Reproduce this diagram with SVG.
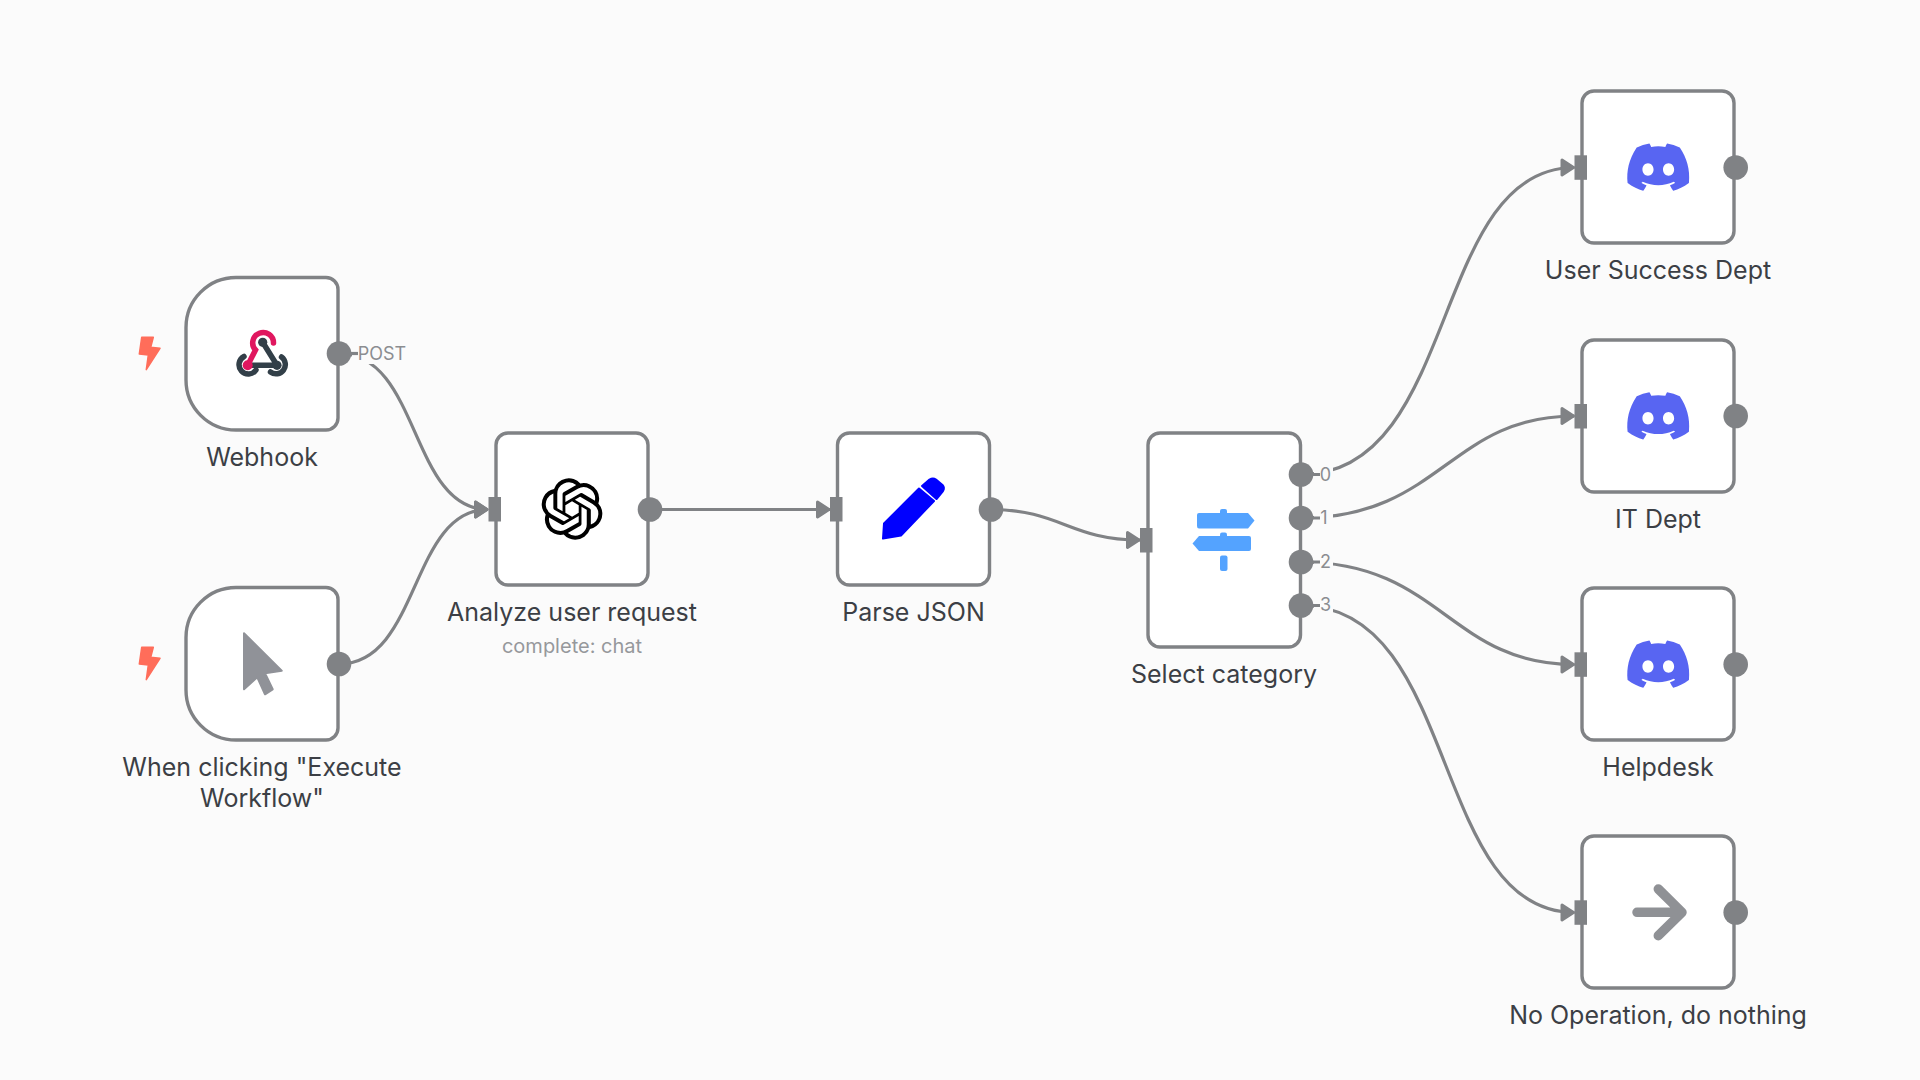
<svg xmlns="http://www.w3.org/2000/svg" xmlns:xlink="http://www.w3.org/1999/xlink" width="1920" height="1080" viewBox="0 0 1920 1080">
<style>
.box{fill:#fff;stroke:#808285;stroke-width:3.4}
.port{fill:#808285}
.in{fill:#808285}
.edge{fill:none;stroke:#808285;stroke-width:3.2;marker-end:url(#arrow)}
.plain{fill:none;stroke:#808285;stroke-width:3.2}
.mask{fill:#fbfbfb}
.label{font-family:Inter,"Liberation Sans",sans-serif;font-size:25px;fill:#3c3f45;text-anchor:middle}
.sub{font-family:Inter,"Liberation Sans",sans-serif;font-size:20px;fill:#96989c;text-anchor:middle}
.out{font-family:Inter,"Liberation Sans",sans-serif;font-size:18px;fill:#8b8d91;text-anchor:middle}
.bolt{fill:#ff6d5a;stroke:#ff6d5a;stroke-width:1.5;stroke-linejoin:round}
</style>
<defs>
<marker id="arrow" markerUnits="userSpaceOnUse" markerWidth="20" markerHeight="24" refX="15" refY="12" orient="auto">
<path d="M2.5 4.5 L14 12 L2.5 19.5 Z" fill="#808285" stroke="#808285" stroke-width="3" stroke-linejoin="round"/>
</marker>
<path id="discord" fill="#5865f2" d="M20.317 4.3698a19.7913 19.7913 0 00-4.8851-1.5152.0741.0741 0 00-.0785.0371c-.211.3753-.4447.8648-.6083 1.2495-1.8447-.2762-3.68-.2762-5.4868 0-.1636-.3933-.4058-.8742-.6177-1.2495a.077.077 0 00-.0785-.037 19.7363 19.7363 0 00-4.8852 1.515.0699.0699 0 00-.0321.0277C.5334 9.0458-.319 13.5799.0992 18.0578a.0824.0824 0 00.0312.0561c2.0528 1.5076 4.0413 2.4228 5.9929 3.0294a.0777.0777 0 00.0842-.0276c.4616-.6304.8731-1.2952 1.226-1.9942a.076.076 0 00-.0416-.1057c-.6528-.2476-1.2743-.5495-1.8722-.8923a.077.077 0 01-.0076-.1277c.1258-.0943.2517-.1923.3718-.2914a.0743.0743 0 01.0776-.0105c3.9278 1.7933 8.18 1.7933 12.0614 0a.0739.0739 0 01.0785.0095c.1202.099.246.1981.3728.2924a.077.077 0 01-.0066.1276 12.2986 12.2986 0 01-1.8732.8914.0766.0766 0 00-.0407.1067c.3604.698.7719 1.3628 1.225 1.9932a.076.076 0 00.0842.0286c1.961-.6067 3.9495-1.5219 6.0023-3.0294a.077.077 0 00.0313-.0552c.5004-5.177-.8382-9.6739-3.5485-13.6604a.061.061 0 00-.0312-.0286zM8.02 15.3312c-1.1825 0-2.1569-1.0857-2.1569-2.419 0-1.3332.9555-2.4189 2.157-2.4189 1.2108 0 2.1757 1.0952 2.1568 2.419 0 1.3332-.9555 2.4189-2.1569 2.4189zm7.9748 0c-1.1825 0-2.1569-1.0857-2.1569-2.419 0-1.3332.9554-2.4189 2.1569-2.4189 1.2108 0 2.1757 1.0952 2.1568 2.419 0 1.3332-.946 2.4189-2.1568 2.4189Z"/>
<path id="bolt" class="bolt" d="M141.7 337.3 L153.3 337.3 L150.7 347.3 L160 348.3 L146.3 369.6 L148.3 355 L139.3 354 Z"/>
</defs>
<rect width="1920" height="1080" fill="#fbfbfb"/>

<g id="connectors">
<path class="edge" d="M339 353.5 C 420 353.5, 410 509.5, 488 509.5"/>
<path class="edge" d="M339 664 C 420 664, 410 509.5, 488 509.5"/>
<path class="edge" d="M650 509.5 L 830 509.5"/>
<path class="edge" d="M991 509.5 C 1060 509.5, 1070 540, 1140 540"/>
<path class="edge" d="M1301 474.5 C 1460 474.5, 1430 167.5, 1574.5 167.5"/>
<path class="edge" d="M1301 518 C 1440 518, 1450 416, 1574.5 416"/>
<path class="edge" d="M1301 562 C 1440 562, 1450 664.5, 1574.5 664.5"/>
<path class="edge" d="M1301 605.5 C 1460 605.5, 1430 912.5, 1574.5 912.5"/>
</g>

<g id="webhook">
<path class="box" d="M236 277.5 H326 A12 12 0 0 1 338 289.5 V418 A12 12 0 0 1 326 430 H236 A50 50 0 0 1 186 380 V327.5 A50 50 0 0 1 236 277.5 Z"/>
<use xlink:href="#bolt" href="#bolt"/>
<g fill="none" stroke-width="5.5" stroke-linecap="round">
<path d="M262.7 342.3 L277 365.3 M252 365.3 H277" stroke="#323f48"/>
<path d="M244 356.5 A9.3 9.3 0 1 0 256 370 M281.5 357 A9.3 9.3 0 1 1 270.5 372" stroke="#323f48"/>
<path d="M247.7 365.3 L255.5 350 A10.4 10.4 0 1 1 273.5 343" stroke="#e0175f"/>
</g>
<circle cx="262.7" cy="342.3" r="4.6" fill="#323f48"/>
<circle cx="277" cy="365.3" r="4.6" fill="#323f48"/>
<circle cx="247.7" cy="365.3" r="5" fill="#e0175f"/>
<rect class="mask" x="352" y="340" width="57" height="24"/>
<text class="out" x="382" y="360">POST</text>
<path class="plain" d="M339 353.5 H358"/>
<circle class="port" cx="339" cy="353.5" r="12.3"/>
<text class="label" x="262" y="466">Webhook</text>
</g>

<g id="manual">
<path class="box" d="M236 587.5 H326 A12 12 0 0 1 338 599.5 V728 A12 12 0 0 1 326 740 H236 A50 50 0 0 1 186 690 V637.5 A50 50 0 0 1 236 587.5 Z"/>
<use xlink:href="#bolt" href="#bolt" y="310"/>
<path d="M244 633.3 L281.7 670.7 L265 673.3 L272.7 689.3 L265 694.3 L257.3 677.3 L244 689.3 Z" fill="#909298" stroke="#909298" stroke-width="2" stroke-linejoin="round"/>
<circle class="port" cx="339" cy="664" r="12.3"/>
<text class="label" x="262" y="776">When clicking "Execute</text>
<text class="label" x="262" y="807">Workflow"</text>
</g>

<g id="openai">
<rect class="box" x="496" y="433" width="152" height="152" rx="12"/>
<rect class="in" x="488.5" y="497" width="12.5" height="24.5"/>
<path transform="translate(541.3 478.3) scale(2.56)" fill="#000" d="M22.2819 9.8211a5.9847 5.9847 0 0 0-.5157-4.9108 6.0462 6.0462 0 0 0-6.5098-2.9A6.0651 6.0651 0 0 0 4.9807 4.1818a5.9847 5.9847 0 0 0-3.9977 2.9 6.0462 6.0462 0 0 0 .7427 7.0966 5.98 5.98 0 0 0 .511 4.9107 6.051 6.051 0 0 0 6.5146 2.9001A5.9847 5.9847 0 0 0 13.2599 24a6.0557 6.0557 0 0 0 5.7718-4.2058 5.9894 5.9894 0 0 0 3.9977-2.9001 6.0557 6.0557 0 0 0-.7475-7.0729zm-9.022 12.6081a4.4755 4.4755 0 0 1-2.8764-1.0408l.1419-.0804 4.7783-2.7582a.7948.7948 0 0 0 .3927-.6813v-6.7369l2.02 1.1686a.071.071 0 0 1 .038.052v5.5826a4.504 4.504 0 0 1-4.4945 4.4944zm-9.6607-4.1254a4.4708 4.4708 0 0 1-.5346-3.0137l.142.0852 4.783 2.7582a.7712.7712 0 0 0 .7806 0l5.8428-3.3685v2.3324a.0804.0804 0 0 1-.0332.0615L9.74 19.9502a4.4992 4.4992 0 0 1-6.1408-1.6464zM2.3408 7.8956a4.485 4.485 0 0 1 2.3655-1.9728V11.6a.7664.7664 0 0 0 .3879.6765l5.8144 3.3543-2.0201 1.1685a.0757.0757 0 0 1-.071 0l-4.8303-2.7865A4.504 4.504 0 0 1 2.3408 7.872zm16.5963 3.8558L13.1038 8.364 15.1192 7.2a.0757.0757 0 0 1 .071 0l4.8303 2.7913a4.4944 4.4944 0 0 1-.6765 8.1042v-5.6772a.79.79 0 0 0-.407-.667zm2.0107-3.0231l-.142-.0852-4.7735-2.7818a.7759.7759 0 0 0-.7854 0L9.409 9.2297V6.8974a.0662.0662 0 0 1 .0284-.0615l4.8303-2.7866a4.4992 4.4992 0 0 1 6.6802 4.66zM8.3065 12.863l-2.02-1.1638a.0804.0804 0 0 1-.038-.0567V6.0742a4.4992 4.4992 0 0 1 7.3757-3.4537l-.142.0805L8.704 5.459a.7948.7948 0 0 0-.3927.6813zm1.0976-2.3654l2.602-1.4998 2.6069 1.4998v2.9994l-2.5974 1.4997-2.6067-1.4997Z"/>
<circle class="port" cx="650" cy="509.5" r="12.3"/>
<text class="label" x="572" y="621">Analyze user request</text>
<text class="sub" x="572" y="653">complete: chat</text>
</g>

<g id="parse-json">
<rect class="box" x="837.5" y="433" width="152" height="152" rx="12"/>
<rect class="in" x="830" y="497" width="12.5" height="24.5"/>
<path d="M919 488.5 L934 501 L901 535.5 L883 538.5 L884 523.5 Z" fill="#0000ff" stroke="#0000ff" stroke-width="2" stroke-linejoin="round"/>
<path d="M922 486 L929.5 479.5 Q933 477.5 936 479.5 L942.5 485 Q945 488 943 491 L936.5 499 Z" fill="#0000ff" stroke="#0000ff" stroke-width="2" stroke-linejoin="round"/>
<circle class="port" cx="991" cy="509.5" r="12.3"/>
<text class="label" x="913.5" y="621">Parse JSON</text>
</g>

<g id="select-category">
<rect class="box" x="1148" y="433" width="152.5" height="214" rx="12"/>
<rect class="in" x="1140" y="528" width="12.5" height="24.5"/>
<g fill="#54a3ff">
<path d="M1199 513 H1248 L1254.5 520.5 L1248 528.5 H1199 Q1197 528.5 1197 526 V515 Q1197 513 1199 513 Z"/>
<path d="M1220 513 V511 Q1220 509 1222 509 H1225 Q1227 509 1227 511 V513 Z"/>
<path d="M1199 536 H1249 Q1251 536 1251 538 V549 Q1251 551 1249 551 H1199 L1192.5 543.5 Z"/>
<path d="M1220 536 V534.5 Q1220 532.5 1222 532.5 H1225 Q1227 532.5 1227 534.5 V536 Z"/>
<rect x="1220" y="555.5" width="7.5" height="15.5" rx="2"/>
</g>
<rect class="mask" x="1314" y="463" width="19" height="22"/><text class="out" x="1325.5" y="481">0</text>
<rect class="mask" x="1314" y="507" width="19" height="22"/><text class="out" x="1324" y="524">1</text>
<rect class="mask" x="1314" y="551" width="19" height="22"/><text class="out" x="1325.5" y="568">2</text>
<rect class="mask" x="1314" y="594" width="19" height="22"/><text class="out" x="1325.5" y="611">3</text>
<path class="plain" d="M1301 474.5 H1320 M1301 518 H1320 M1301 562 H1320 M1301 605.5 H1320"/>
<circle class="port" cx="1301" cy="474.5" r="12.3"/>
<circle class="port" cx="1301" cy="518" r="12.3"/>
<circle class="port" cx="1301" cy="562" r="12.3"/>
<circle class="port" cx="1301" cy="605.5" r="12.3"/>
<text class="label" x="1224" y="683">Select category</text>
</g>

<g id="user-success">
<rect class="box" x="1582" y="91" width="152" height="152" rx="12"/>
<rect class="in" x="1574.5" y="155.3" width="12.5" height="24.5"/>
<use xlink:href="#discord" href="#discord" transform="translate(1627.3 136.2) scale(2.58)"/>
<circle class="port" cx="1735.7" cy="167.5" r="12.3"/>
<text class="label" x="1658" y="279">User Success Dept</text>
</g>

<g id="it-dept">
<rect class="box" x="1582" y="340" width="152" height="152" rx="12"/>
<rect class="in" x="1574.5" y="404" width="12.5" height="24.5"/>
<use xlink:href="#discord" href="#discord" transform="translate(1627.3 385) scale(2.58)"/>
<circle class="port" cx="1735.7" cy="416" r="12.3"/>
<text class="label" x="1658" y="528">IT Dept</text>
</g>

<g id="helpdesk">
<rect class="box" x="1582" y="588" width="152" height="152" rx="12"/>
<rect class="in" x="1574.5" y="652.3" width="12.5" height="24.5"/>
<use xlink:href="#discord" href="#discord" transform="translate(1627.3 633.2) scale(2.58)"/>
<circle class="port" cx="1735.7" cy="664.5" r="12.3"/>
<text class="label" x="1658" y="776">Helpdesk</text>
</g>

<g id="noop">
<rect class="box" x="1582" y="836" width="152" height="152" rx="12"/>
<rect class="in" x="1574.5" y="900.3" width="12.5" height="24.5"/>
<path d="M1637 912.3 H1680 M1658.3 889 L1682 912.3 L1658.3 935.7" fill="none" stroke="#8f9195" stroke-width="9.5" stroke-linecap="round" stroke-linejoin="round"/>
<circle class="port" cx="1735.7" cy="912.5" r="12.3"/>
<text class="label" x="1658" y="1024">No Operation, do nothing</text>
</g>
</svg>
